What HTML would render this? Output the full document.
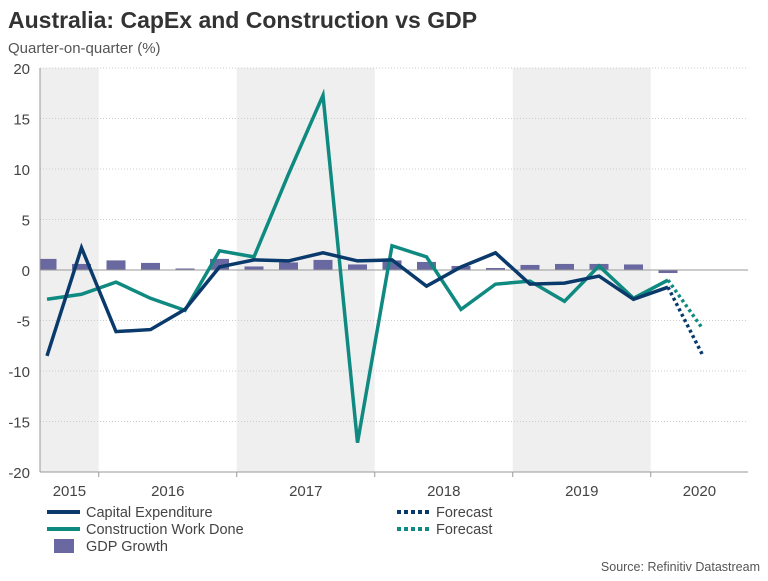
<!DOCTYPE html>
<html><head><meta charset="utf-8"><style>
body{margin:0;background:#fff;}
svg text{font-family:"Liberation Sans",Arial,sans-serif;}
</style></head><body>
<svg id="chart" width="768" height="576" viewBox="0 0 768 576" xmlns="http://www.w3.org/2000/svg">
<text x="8" y="28" font-size="23" font-weight="bold" fill="#333">Australia: CapEx and Construction vs GDP</text>
<text x="8" y="53" font-size="15" fill="#555">Quarter-on-quarter (%)</text>
<g id="shade"></g><g id="grid"></g><g id="bars"></g><g id="lines"></g><g id="axes"></g>
<g font-size="14.5" fill="#444">
<line x1="47" y1="512" x2="80" y2="512" stroke="#0a3a6b" stroke-width="4"/>
<text x="86" y="517">Capital Expenditure</text>
<line x1="47" y1="529" x2="80" y2="529" stroke="#0f8a80" stroke-width="4"/>
<text x="86" y="534">Construction Work Done</text>
<rect x="54" y="539" width="20" height="14" fill="#6a68a0"/>
<text x="86" y="551">GDP Growth</text>
<line x1="397" y1="512" x2="430" y2="512" stroke="#0a3a6b" stroke-width="4" stroke-dasharray="4,3"/>
<text x="436" y="517">Forecast</text>
<line x1="397" y1="529" x2="430" y2="529" stroke="#0f8a80" stroke-width="4" stroke-dasharray="4,3"/>
<text x="436" y="534">Forecast</text>
</g>
<text x="760" y="571" font-size="12.5" fill="#555" text-anchor="end">Source: Refinitiv Datastream</text>
</svg>
<script>
const years=["2015","2016","2017","2018","2019","2020"];
const yTicks=[20,15,10,5,0,-5,-10,-15,-20];
const gdp=[1.1,0.6,0.95,0.7,0.15,1.1,0.35,0.75,1.0,0.55,0.95,0.8,0.4,0.2,0.5,0.6,0.6,0.55,-0.3];
const capex=[-8.5,2.2,-6.1,-5.9,-3.9,0.3,1.0,0.9,1.7,0.9,1.0,-1.6,0.3,1.7,-1.4,-1.3,-0.6,-2.9,-1.7];
const construction=[-2.9,-2.4,-1.2,-2.8,-4.0,1.9,1.3,9.5,17.3,-17.1,2.4,1.3,-3.9,-1.4,-1.1,-3.1,0.4,-2.8,-1.0];
const capexForecast=[-1.7,-8.4];
const constructionForecast=[-1.0,-5.8];
const NS="http://www.w3.org/2000/svg";
const L=40,R=748,T=68,B=472;
function x(i){return 47+34.5*i;}
function y(v){return T+(20-v)*(B-T)/40;}
function mk(tag,attrs,parent){const e=document.createElementNS(NS,tag);for(const k in attrs)e.setAttribute(k,attrs[k]);document.getElementById(parent).appendChild(e);return e;}
const bands=[[L,x(1.5)],[x(5.5),x(9.5)],[x(13.5),x(17.5)]];
bands.forEach(b=>{const r=mk('rect',{x:b[0],y:T,width:b[1]-b[0],height:B-T,fill:'#efefef'},'shade');

});
yTicks.forEach(t=>{
 if(t!==0&&t!==-20){const g=mk('line',{x1:L,x2:R,y1:y(t),y2:y(t),stroke:'#ccc','stroke-dasharray':'1,2'},'grid');
 
 }
 const tx=mk('text',{x:30,y:y(t)+6,'font-size':15,fill:'#444','text-anchor':'end'},'axes');tx.textContent=t;
 
 
});
gdp.forEach((v,i)=>{const r=mk('rect',{x:Math.max(L,x(i)-9.5),y:Math.min(y(v),y(0)),width:x(i)+9.5-Math.max(L,x(i)-9.5),height:Math.abs(y(v)-y(0)),fill:'#6a68a0'},'bars');

});
mk('line',{x1:L,x2:R,y1:y(0),y2:y(0),stroke:'#999','stroke-width':1},'bars');
function pl(arr,off,color,dash,name){const pts=arr.map((v,i)=>x(i+off)+','+y(v)).join(' ');
 const p=mk('polyline',{points:pts,fill:'none',stroke:color,'stroke-width':3.5,'stroke-linejoin':'miter'},'lines');
 if(dash)p.setAttribute('stroke-dasharray','3,3');
 
 }
pl(construction,0,'#0f8a80',false,'construction-line');
pl(capex,0,'#0a3a6b',false,'capex-line');
pl(constructionForecast,18,'#0f8a80',true,'construction-forecast-line');
pl(capexForecast,18,'#0a3a6b',true,'capex-forecast-line');
mk('line',{x1:L,x2:L,y1:T,y2:B,stroke:'#999'},'axes');
mk('line',{x1:L,x2:R,y1:B,y2:B,stroke:'#999'},'axes');
const bounds=[L,x(1.5),x(5.5),x(9.5),x(13.5),x(17.5),R];
[1,2,3,4,5].forEach(k=>mk('line',{x1:bounds[k],x2:bounds[k],y1:B,y2:B+5,stroke:'#999'},'axes'));
years.forEach((yr,k)=>{const t=mk('text',{x:(bounds[k]+bounds[k+1])/2,y:496,'font-size':15,fill:'#444','text-anchor':'middle'},'axes');t.textContent=yr;

});
</script>
</body></html>
